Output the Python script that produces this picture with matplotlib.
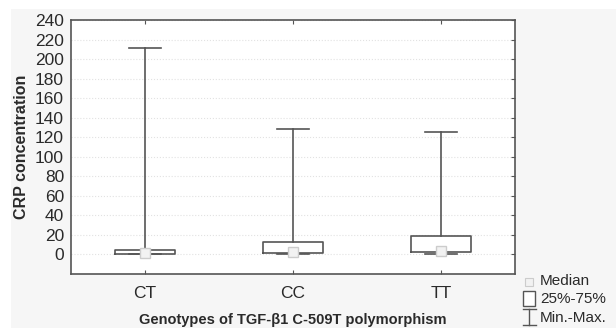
import matplotlib.pyplot as plt
from matplotlib.patches import Rectangle

# values
genotypes = ['CT', 'CC', 'TT']
mins = [0.0, 0.2, 0.5]
q1 = [0.3, 1.7, 2.4]
medians = [1.5, 2.8, 4.0]
q3 = [4.8, 12.3, 18.7]
maxs = [211.0, 128.0, 125.0]

line_col = '#555555'
text_col = '#2a2a2a'
plt.rcParams['font.family'] = ['Liberation Sans', 'DejaVu Sans']

fig = plt.figure(figsize=(6.16, 3.28), dpi=100, facecolor='white')
# light grey panel behind the chart
fig.patches.append(Rectangle((11 / 616, 0), 1, 1 - 9 / 328, transform=fig.transFigure,
                             facecolor='#f6f6f6', edgecolor='none', zorder=-10))

ax = fig.add_axes([71 / 616, 1 - 274 / 328, 444 / 616, 254 / 328])
ax.set_facecolor('white')

pos = list(range(1, len(genotypes) + 1))
stats = []
for g, lo, a, m, b, hi in zip(genotypes, mins, q1, medians, q3, maxs):
    stats.append({'label': g, 'whislo': lo, 'q1': a, 'med': m, 'q3': b, 'whishi': hi, 'fliers': []})

ax.bxp(stats, positions=pos, widths=0.4, showfliers=False,
       boxprops=dict(color=line_col, linewidth=1.2),
       whiskerprops=dict(color=line_col, linewidth=1.2),
       capprops=dict(color=line_col, linewidth=1.2),
       medianprops=dict(linewidth=0), capwidths=0.22, zorder=3)
ax.plot(pos, medians, linestyle='none', marker='s', markersize=7,
        markerfacecolor='#f2f2f2', markeredgecolor='#cccccc', zorder=4)

ax.set_xlim(0.5, 3.5)
ax.set_ylim(-20, 240)
ax.set_yticks(range(0, 241, 20))
ax.grid(axis='y', linestyle=':', color='#e2e2e2', linewidth=0.8, zorder=0)
ax.set_axisbelow(True)
ax.tick_params(direction='in', top=True, right=True, colors=line_col,
               labelcolor=text_col, labelsize=12.5, length=3)
ax.tick_params(axis='y', left=False, pad=5)
ax.tick_params(axis='x', pad=9)
for s in ax.spines.values():
    s.set_color(line_col)
    s.set_linewidth(1.2)

ax.set_xlabel('Genotypes of TGF-β1 C-509T polymorphism', fontsize=10.5, fontweight='bold',
              color=text_col, labelpad=8)
ax.set_ylabel('CRP concentration', fontsize=11.5, fontweight='bold', color=text_col, labelpad=4)

# legend drawn by hand, like the original
px = lambda x: x / 616
py = lambda y: 1 - y / 328
fig.patches.append(Rectangle((px(525), py(286)), px(8), 8 / 328, transform=fig.transFigure,
                             facecolor='#f2f2f2', edgecolor='#cccccc', linewidth=0.8))
fig.text(px(540), py(281), 'Median', fontsize=11, va='center', color=text_col)
fig.patches.append(Rectangle((px(523), py(306)), px(12), 15 / 328, transform=fig.transFigure,
                             facecolor='white', edgecolor=line_col, linewidth=1.0))
fig.text(px(540), py(299), '25%-75%', fontsize=11, va='center', color=text_col)
fig.add_artist(plt.Line2D([px(529), px(529)], [py(309), py(325)], color=line_col, linewidth=1.0))
fig.add_artist(plt.Line2D([px(523), px(536)], [py(309), py(309)], color=line_col, linewidth=1.0))
fig.add_artist(plt.Line2D([px(523), px(536)], [py(325), py(325)], color=line_col, linewidth=1.0))
fig.text(px(540), py(318), 'Min.-Max.', fontsize=11, va='center', color=text_col)

fig.savefig('out.png', dpi=100, facecolor=fig.get_facecolor())
